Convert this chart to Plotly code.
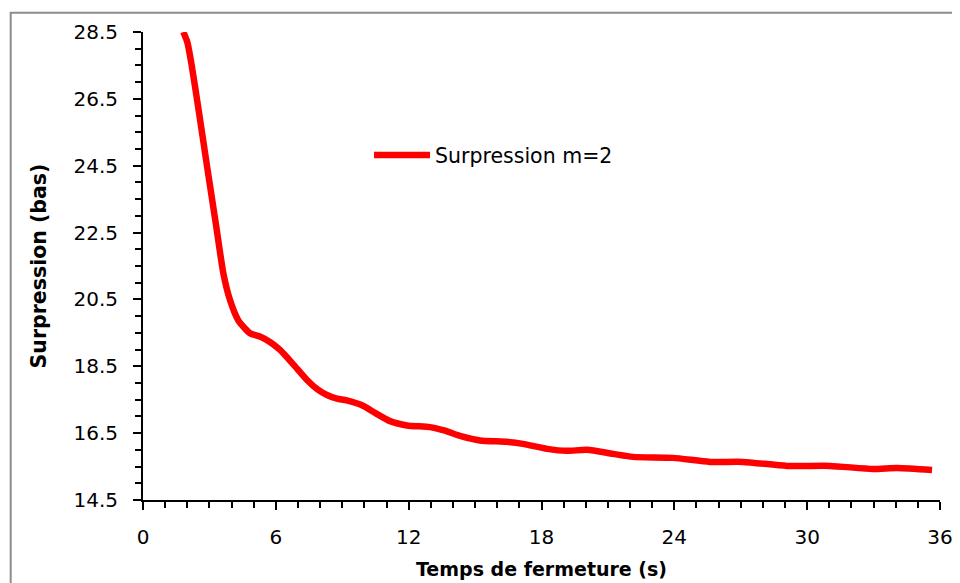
import plotly.graph_objects as go

# Data
temps = [1.82, 2.00, 2.20, 2.50, 2.90, 3.30, 3.63, 3.93, 4.30, 4.83, 5.28, 5.75, 6.19,
         6.80, 7.41, 7.90, 8.31, 8.76, 9.20, 9.94, 10.50, 11.16, 11.92, 12.96, 13.60,
         14.40, 15.22, 16.44, 17.16, 18.25, 19.15, 20.05, 21.23, 22.13, 23.94, 25.61,
         27.10, 29.09, 31.03, 32.97, 34.06, 35.64]
surpression = [28.50, 28.20, 27.50, 26.22, 24.45, 22.72, 21.28, 20.48, 19.88, 19.49, 19.39,
               19.22, 18.99, 18.55, 18.09, 17.80, 17.64, 17.53, 17.48, 17.32, 17.10, 16.86,
               16.73, 16.68, 16.58, 16.40, 16.28, 16.24, 16.18, 16.03, 15.97, 16.00, 15.88,
               15.79, 15.76, 15.64, 15.64, 15.52, 15.52, 15.43, 15.46, 15.40]
serie_nom = "Surpression m=2"
x_titre = "Temps de fermeture (s)"
y_titre = "Surpression (bas)"

FONT = "'DejaVu Sans', sans-serif"

fig = go.Figure()
fig.add_trace(go.Scatter(
    x=temps, y=surpression, mode="lines", name=serie_nom,
    line=dict(color="#ff0000", width=6.5, shape="spline", smoothing=0.6),
))

axis_common = dict(
    showgrid=False, zeroline=False, showline=True, linecolor="black", linewidth=2,
    ticks="outside", ticklen=8, tickwidth=2, tickcolor="black",
    tickfont=dict(family=FONT, size=20, color="black"),
    mirror=False, automargin=False,
)

# the page adds an 8px body margin, so the figure is sized and offset to compensate
fig.update_layout(
    width=952, height=575,
    margin=dict(l=135, r=20, t=24, b=83, autoexpand=False),
    paper_bgcolor="white", plot_bgcolor="white",
    font=dict(family=FONT, size=20, color="black"),
    showlegend=True,
    legend=dict(x=0.2836, y=0.737, xanchor="left", yanchor="middle",
                bgcolor="rgba(0,0,0,0)", font=dict(family=FONT, size=20.5, color="black"),
                itemwidth=56),
    xaxis=dict(range=[0, 36], dtick=6, tick0=0,
               title=dict(text="<b>" + x_titre + "</b>", font=dict(family=FONT, size=19), standoff=15),
               minor=dict(dtick=1, ticks="outside", ticklen=6, tickwidth=2, tickcolor="black"),
               ticklabelstandoff=10,
               **axis_common),
    yaxis=dict(range=[14.5, 28.5], dtick=2, tick0=14.5, tickformat=".1f",
               title=dict(text="<b>" + y_titre + "</b>", font=dict(family=FONT, size=20.5), standoff=21),
               minor=dict(dtick=0.5, ticks="outside", ticklen=6, tickwidth=2, tickcolor="black"),
               ticklabelstandoff=11,
               **axis_common),
    shapes=[dict(type="rect", xref="paper", yref="paper",
                 x0=-0.166, x1=1.021, y0=-0.3, y1=1.041,
                 line=dict(color="#8c8c8c", width=2), fillcolor="rgba(0,0,0,0)", layer="below")],
)

fig.write_html("out.html")
